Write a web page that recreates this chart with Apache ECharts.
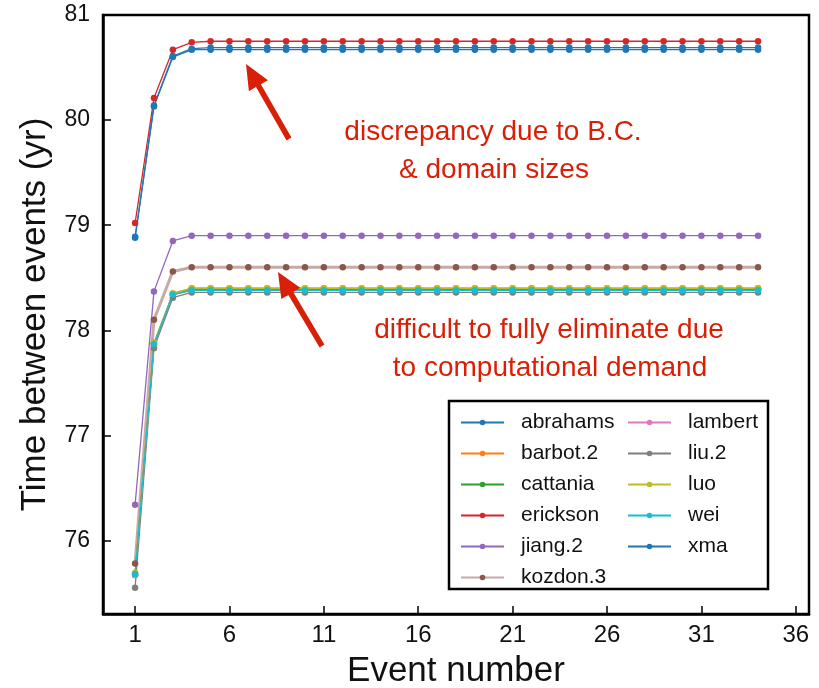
<!DOCTYPE html>
<html>
<head>
<meta charset="utf-8">
<script src="https://cdn.jsdelivr.net/npm/echarts@6/dist/echarts.min.js"></script>
<style>
  html, body { margin: 0; padding: 0; background: #fff; }
  #main { width: 819px; height: 688px; }
</style>
</head>
<body>
<div id="main"></div>
<script>
// event index
var events = [1, 2, 3, 4, 5, 6, 7, 8, 9, 10, 11, 12, 13, 14, 15, 16, 17,
              18, 19, 20, 21, 22, 23, 24, 25, 26, 27, 28, 29, 30, 31, 32, 33, 34];

var abrahams = [78.88, 80.13, 80.60, 80.67, 80.67, 80.67, 80.67, 80.67, 80.67, 80.67, 80.67, 80.67, 80.67, 80.67, 80.67, 80.67, 80.67,
                80.67, 80.67, 80.67, 80.67, 80.67, 80.67, 80.67, 80.67, 80.67, 80.67, 80.67, 80.67, 80.67, 80.67, 80.67, 80.67, 80.67];
var barbot2 = [75.68, 77.88, 78.35, 78.40, 78.40, 78.40, 78.40, 78.40, 78.40, 78.40, 78.40, 78.40, 78.40, 78.40, 78.40, 78.40, 78.40,
               78.40, 78.40, 78.40, 78.40, 78.40, 78.40, 78.40, 78.40, 78.40, 78.40, 78.40, 78.40, 78.40, 78.40, 78.40, 78.40, 78.40];
var cattania = [75.67, 77.87, 78.34, 78.39, 78.39, 78.39, 78.39, 78.39, 78.39, 78.39, 78.39, 78.39, 78.39, 78.39, 78.39, 78.39, 78.39,
                78.39, 78.39, 78.39, 78.39, 78.39, 78.39, 78.39, 78.39, 78.39, 78.39, 78.39, 78.39, 78.39, 78.39, 78.39, 78.39, 78.39];
var erickson = [79.02, 80.21, 80.67, 80.74, 80.75, 80.75, 80.75, 80.75, 80.75, 80.75, 80.75, 80.75, 80.75, 80.75, 80.75, 80.75, 80.75,
                80.75, 80.75, 80.75, 80.75, 80.75, 80.75, 80.75, 80.75, 80.75, 80.75, 80.75, 80.75, 80.75, 80.75, 80.75, 80.75, 80.75];
var jiang2 = [76.34, 78.37, 78.85, 78.90, 78.90, 78.90, 78.90, 78.90, 78.90, 78.90, 78.90, 78.90, 78.90, 78.90, 78.90, 78.90, 78.90,
              78.90, 78.90, 78.90, 78.90, 78.90, 78.90, 78.90, 78.90, 78.90, 78.90, 78.90, 78.90, 78.90, 78.90, 78.90, 78.90, 78.90];
var kozdon3 = [75.78, 78.10, 78.56, 78.60, 78.60, 78.60, 78.60, 78.60, 78.60, 78.60, 78.60, 78.60, 78.60, 78.60, 78.60, 78.60, 78.60,
               78.60, 78.60, 78.60, 78.60, 78.60, 78.60, 78.60, 78.60, 78.60, 78.60, 78.60, 78.60, 78.60, 78.60, 78.60, 78.60, 78.60];
var lambert = [75.67, 77.86, 78.34, 78.38, 78.38, 78.38, 78.38, 78.38, 78.38, 78.38, 78.38, 78.38, 78.38, 78.38, 78.38, 78.38, 78.38,
               78.38, 78.38, 78.38, 78.38, 78.38, 78.38, 78.38, 78.38, 78.38, 78.38, 78.38, 78.38, 78.38, 78.38, 78.38, 78.38, 78.38];
var liu2 = [75.55, 77.83, 78.31, 78.36, 78.36, 78.36, 78.36, 78.36, 78.36, 78.36, 78.36, 78.36, 78.36, 78.36, 78.36, 78.36, 78.36,
            78.36, 78.36, 78.36, 78.36, 78.36, 78.36, 78.36, 78.36, 78.36, 78.36, 78.36, 78.36, 78.36, 78.36, 78.36, 78.36, 78.36];
var luo = [75.69, 77.88, 78.35, 78.40, 78.40, 78.40, 78.40, 78.40, 78.40, 78.40, 78.40, 78.40, 78.40, 78.40, 78.40, 78.40, 78.40,
           78.40, 78.40, 78.40, 78.40, 78.40, 78.40, 78.40, 78.40, 78.40, 78.40, 78.40, 78.40, 78.40, 78.40, 78.40, 78.40, 78.40];
var wei = [75.68, 77.87, 78.34, 78.38, 78.38, 78.38, 78.38, 78.38, 78.38, 78.38, 78.38, 78.38, 78.38, 78.38, 78.38, 78.38, 78.38,
           78.38, 78.38, 78.38, 78.38, 78.38, 78.38, 78.38, 78.38, 78.38, 78.38, 78.38, 78.38, 78.38, 78.38, 78.38, 78.38, 78.38];
var xma = [78.89, 80.14, 80.61, 80.68, 80.69, 80.69, 80.69, 80.69, 80.69, 80.69, 80.69, 80.69, 80.69, 80.69, 80.69, 80.69, 80.69,
           80.69, 80.69, 80.69, 80.69, 80.69, 80.69, 80.69, 80.69, 80.69, 80.69, 80.69, 80.69, 80.69, 80.69, 80.69, 80.69, 80.69];

var xTicks = [1, 6, 11, 16, 21, 26, 31, 36];
var yTicks = [76, 77, 78, 79, 80, 81];

var names = ['abrahams', 'barbot.2', 'cattania', 'erickson', 'jiang.2', 'kozdon.3',
             'lambert', 'liu.2', 'luo', 'wei', 'xma'];
var colors = ['#1f77b4', '#ff7f0e', '#2ca02c', '#d62728', '#9467bd', '#8c564b',
              '#e377c2', '#7f7f7f', '#bcbd22', '#17becf', '#1f77b4'];
var values = [abrahams, barbot2, cattania, erickson, jiang2, kozdon3,
              lambert, liu2, luo, wei, xma];

var FONT = '"Liberation Sans", Arial, Helvetica, sans-serif';
var RED = '#d91f05';

var series = [];
for (var i = 0; i < names.length; i++) {
    var pts = [];
    for (var j = 0; j < events.length; j++) pts.push([events[j], values[i][j]]);
    series.push({
        name: names[i],
        type: 'line',
        data: pts,
        symbol: 'circle',
        symbolSize: 6.5,
        itemStyle: { color: colors[i] },
        lineStyle: names[i] == 'kozdon.3'
            ? { width: 3, color: colors[i], opacity: 0.5 }
            : { width: 1.3, color: colors[i] }
    });
}

// red arrow as polygon, tail -> tip (pixels)
function arrow(x0, y0, x1, y1) {
    var dx = x1 - x0, dy = y1 - y0;
    var len = Math.sqrt(dx * dx + dy * dy);
    var ux = dx / len, uy = dy / len, nx = -uy, ny = ux;
    var w = 2.8, L = 25, H = 11;
    var bx = x1 - ux * L, by = y1 - uy * L;
    return {
        type: 'polygon',
        shape: { points: [
            [x0 + nx * w, y0 + ny * w], [bx + nx * w, by + ny * w], [bx + nx * H, by + ny * H],
            [x1, y1],
            [bx - nx * H, by - ny * H], [bx - nx * w, by - ny * w], [x0 - nx * w, y0 - ny * w]
        ] },
        style: { fill: RED },
        z: 50
    };
}

function note(txt, x, y) {
    return {
        type: 'text', x: x, y: y, z: 50,
        style: { text: txt, fill: RED, font: '28px ' + FONT, textAlign: 'center', textVerticalAlign: 'middle' }
    };
}

var legendCommon = {
    orient: 'vertical',
    top: 407,
    itemWidth: 43,
    itemHeight: 7,
    itemGap: 10,
    textStyle: { fontFamily: FONT, fontSize: 21, color: '#111', lineHeight: 20, padding: [0, 0, 0, 12] }
};

var myChart = echarts.init(document.getElementById('main'));
var option = {
    animation: false,
    backgroundColor: '#fff',
    grid: {
        left: 103, right: 10, top: 15, bottom: 74,
        outerBoundsMode: 'none',
        show: true, borderColor: '#000', borderWidth: 2.5
    },
    legend: [
        Object.assign({}, legendCommon, { left: 455, data: names.slice(0, 6) }),
        Object.assign({}, legendCommon, { left: 622, data: names.slice(6) })
    ],
    xAxis: {
        type: 'value',
        min: -0.7,
        max: 36.7,
        name: 'Event number',
        nameLocation: 'middle',
        nameGap: 40,
        nameTextStyle: { fontFamily: FONT, fontSize: 35, color: '#111' },
        axisLine: { onZero: false, lineStyle: { color: '#000', width: 2.5 } },
        axisTick: { inside: true, length: 8, customValues: xTicks, lineStyle: { color: '#000', width: 1.5 } },
        axisLabel: { customValues: xTicks, margin: 9, fontFamily: FONT, fontSize: 24, color: '#111' },
        splitLine: { show: false }
    },
    yAxis: {
        type: 'value',
        min: 75.3,
        max: 81,
        name: 'Time between events (yr)',
        nameLocation: 'middle',
        nameGap: 50,
        nameTextStyle: { fontFamily: FONT, fontSize: 35, color: '#111' },
        axisLine: { onZero: false, lineStyle: { color: '#000', width: 2.5 } },
        axisTick: { inside: true, length: 8, customValues: yTicks, lineStyle: { color: '#000', width: 1.5 } },
        axisLabel: { customValues: yTicks, margin: 13, fontFamily: FONT, fontSize: 23, color: '#111' },
        splitLine: { show: false }
    },
    graphic: [
        {
            type: 'rect', z: 1,
            shape: { x: 449, y: 401, width: 319, height: 188 },
            style: { fill: '#fff', stroke: '#000', lineWidth: 2.5 }
        },
        arrow(289, 139, 246, 64),
        arrow(322, 346, 278, 272),
        note('discrepancy due to B.C.', 493, 132),
        note('& domain sizes', 494, 170),
        note('difficult to fully eliminate due', 549, 330),
        note('to computational demand', 550, 368)
    ],
    series: series
};
myChart.setOption(option);
</script>
</body>
</html>
